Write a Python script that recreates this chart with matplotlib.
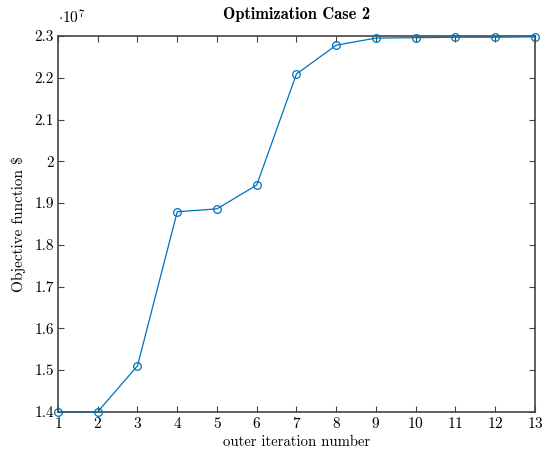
import matplotlib
matplotlib.use("Agg")
import matplotlib.pyplot as plt
from matplotlib.ticker import FuncFormatter

plt.rcParams["font.family"] = ["cmr10", "DejaVu Serif"]
plt.rcParams["mathtext.fontset"] = "cm"
plt.rcParams["axes.formatter.use_mathtext"] = True

iterations = list(range(1, 14))
# objective values, in units of 1e7
objective = [1.400, 1.400, 1.510, 1.879, 1.886, 1.943, 2.209,
             2.278, 2.295, 2.296, 2.297, 2.297, 2.298]
yticks = [1.4, 1.5, 1.6, 1.7, 1.8, 1.9, 2.0, 2.1, 2.2, 2.3]

blue = "#0072BD"

fig = plt.figure(figsize=(5.42, 4.5), dpi=100)
ax = fig.add_axes([0.107, 0.085, 0.880, 0.835])

ax.plot(iterations, objective, color=blue, lw=0.9, marker="o",
        markersize=5.5, markerfacecolor="none", markeredgewidth=0.9,
        clip_on=False, zorder=3)

ax.set_xlim(1, 13)
ax.set_ylim(1.4, 2.3)
ax.set_xticks(iterations)
ax.set_yticks(yticks)
ax.yaxis.set_major_formatter(FuncFormatter(lambda v, _: f"{v:g}"))

ax.tick_params(direction="in", top=True, right=True, length=4,
               width=0.8, color="#444444", labelsize=11, pad=3)
for s in ax.spines.values():
    s.set_linewidth(1.2)
    s.set_color("#444444")

ax.set_xlabel("outer iteration number", fontsize=10.6, labelpad=3)
ax.set_ylabel(r"Objective function \$", fontsize=11, labelpad=6)
ax.set_title("Optimization Case 2", fontsize=11.8, family="cmb10", pad=12)
ax.text(0.0, 1.025, r"$\cdot 10^{7}$", transform=ax.transAxes,
        fontsize=11, ha="left", va="bottom")

fig.savefig("out.png", dpi=100)
